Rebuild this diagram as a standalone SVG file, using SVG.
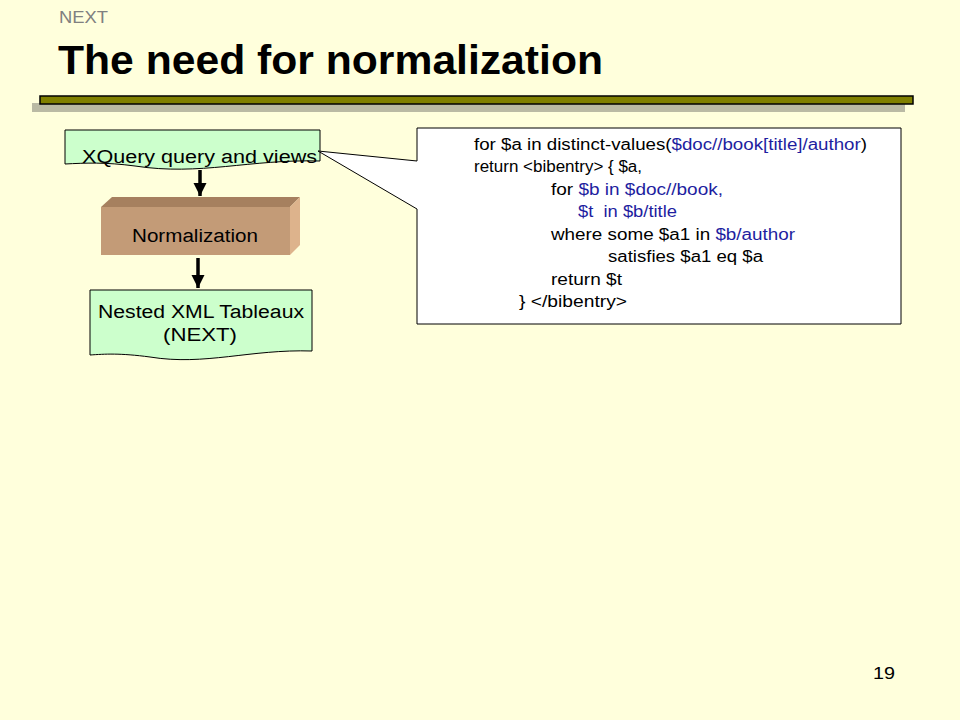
<svg xmlns="http://www.w3.org/2000/svg" width="960" height="720" viewBox="0 0 960 720">
<style>
.sans{font-family:"Liberation Sans",Arial,sans-serif}
.doc{fill:#CCFFCC;stroke:#000;stroke-width:1}
.code{font-family:"Liberation Sans",Arial,sans-serif;font-size:16px;fill:#000;white-space:pre}
.blue{fill:#1E1EA0}
.lbl{font-family:"Liberation Sans",Arial,sans-serif;font-size:18px;fill:#000}
</style>
<defs>
<marker id="ah" viewBox="0 0 10 10" refX="10" refY="5" markerWidth="3.8" markerHeight="3.8" orient="auto" markerUnits="strokeWidth">
<path d="M0,0 L10,5 L0,10 Z" fill="#000"/>
</marker>
</defs>
<rect width="960" height="720" fill="#FFFFDC"/>
<g id="header">
<text class="sans" x="59" y="23" font-size="16" fill="#808080" textLength="49" lengthAdjust="spacingAndGlyphs">NEXT</text>
<text class="sans" x="58" y="74" font-size="40" font-weight="bold" fill="#000" textLength="545" lengthAdjust="spacingAndGlyphs">The need for normalization</text>
<rect x="32" y="103" width="873" height="9" fill="#BABAA4"/>
<rect x="40" y="96" width="873" height="8" fill="#808000" stroke="#000" stroke-width="1.5"/>
</g>
<g id="xquery">
<path class="doc" d="M65,130 H320 V161 C250,159 200,176 135,166 C105,162 85,163 65,164 Z"/>
<text class="lbl" x="82" y="163" textLength="235" lengthAdjust="spacingAndGlyphs">XQuery query and views</text>
</g>
<g id="normalization">
<polygon points="101,207 112,197 300,197 290,207" fill="#A6805F"/>
<polygon points="290,207 300,197 300,245 290,255" fill="#DDB38C"/>
<rect x="101" y="207" width="189" height="48" fill="#C39B77"/>
<text class="lbl" x="132" y="242" textLength="126" lengthAdjust="spacingAndGlyphs">Normalization</text>
</g>
<g id="nested">
<path class="doc" d="M90,290 H312 V351 C250,349 205,366 150,357 C120,353 105,354 90,355 Z"/>
<text class="lbl" x="98" y="318" textLength="206" lengthAdjust="spacingAndGlyphs">Nested XML Tableaux</text>
<text class="lbl" x="163" y="341" textLength="74" lengthAdjust="spacingAndGlyphs">(NEXT)</text>
</g>
<g id="callout">
<path d="M417,128 H901 V324 H417 V209 L318,151 L417,161 Z" fill="#FFFFFF" stroke="#000" stroke-width="1"/>
<text class="code" x="474" y="150" textLength="393" lengthAdjust="spacingAndGlyphs">for $a in distinct-values(<tspan class="blue">$doc//book[title]/author</tspan>)</text>
<text class="code" x="474" y="172" textLength="168" lengthAdjust="spacingAndGlyphs">return &lt;bibentry&gt; { $a,</text>
<text class="code" x="551" y="195" textLength="172" lengthAdjust="spacingAndGlyphs">for <tspan class="blue">$b in $doc//book,</tspan></text>
<text class="code blue" x="578" y="217" textLength="99" lengthAdjust="spacingAndGlyphs">$t  in $b/title</text>
<text class="code" x="551" y="240" textLength="244" lengthAdjust="spacingAndGlyphs">where some $a1 in <tspan class="blue">$b/author</tspan></text>
<text class="code" x="608" y="262" textLength="155" lengthAdjust="spacingAndGlyphs">satisfies $a1 eq $a</text>
<text class="code" x="551" y="285" textLength="71" lengthAdjust="spacingAndGlyphs">return $t</text>
<text class="code" x="519" y="307" textLength="108" lengthAdjust="spacingAndGlyphs">} &lt;/bibentry&gt;</text>
</g>
<g id="connectors">
<line x1="200" y1="170" x2="200" y2="196" stroke="#000" stroke-width="3.5" marker-end="url(#ah)"/>
<line x1="198" y1="258" x2="198" y2="288" stroke="#000" stroke-width="3.5" marker-end="url(#ah)"/>
</g>
<text class="sans" x="873" y="679" font-size="16" fill="#000" textLength="22" lengthAdjust="spacingAndGlyphs">19</text>
</svg>
